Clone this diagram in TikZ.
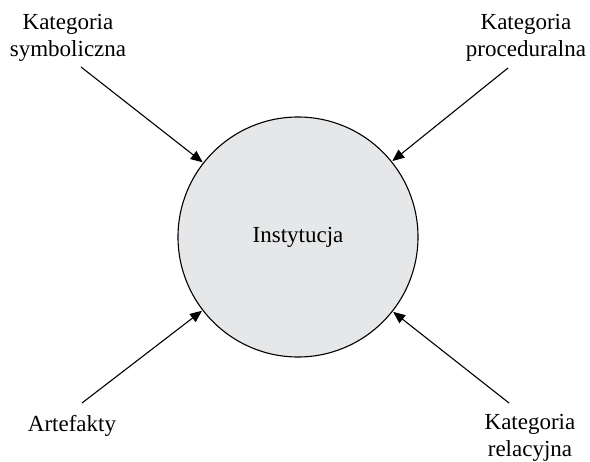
\documentclass[tikz,border=0pt]{standalone}
\usepackage{fontspec}
\setmainfont{Liberation Serif}
\usetikzlibrary{arrows.meta}
\definecolor{discgray}{HTML}{E6E7E8}
\begin{document}
\begin{tikzpicture}[x=1pt,y=-1pt,
  label text/.style={font=\fontsize{23}{27}\selectfont, align=center, inner sep=0pt},
  disc/.style={circle, draw, line width=1.1pt, fill=discgray, minimum size=240pt, inner sep=0pt,
    font=\fontsize{23}{27}\selectfont},
  feed/.style={line width=1.1pt, -{Triangle[length=12pt,width=10pt]}, shorten >=0.5pt}]
  \useasboundingbox (0,0) rectangle (590,462);

  % central institution
  \node[disc] (inst) at (298,237) {Instytucja};

  % surrounding categories
  \node[label text] (sym)  at (68,38)   {Kategoria\\symboliczna};
  \node[label text] (proc) at (526,38)  {Kategoria\\proceduralna};
  \node[label text, anchor=base] (art) at (72,432) {Artefakty};
  \node[label text] (rel)  at (530,438) {Kategoria\\relacyjna};

  % free ends of the connectors, just off the labels
  \coordinate (sym-e)  at (81,67);
  \coordinate (proc-e) at (508,68);
  \coordinate (art-e)  at (82,403);
  \coordinate (rel-e)  at (509,403);

  \draw[feed] (sym-e)  -- (inst);
  \draw[feed] (proc-e) -- (inst);
  \draw[feed] (art-e)  -- (inst);
  \draw[feed] (rel-e)  -- (inst);
\end{tikzpicture}
\end{document}
